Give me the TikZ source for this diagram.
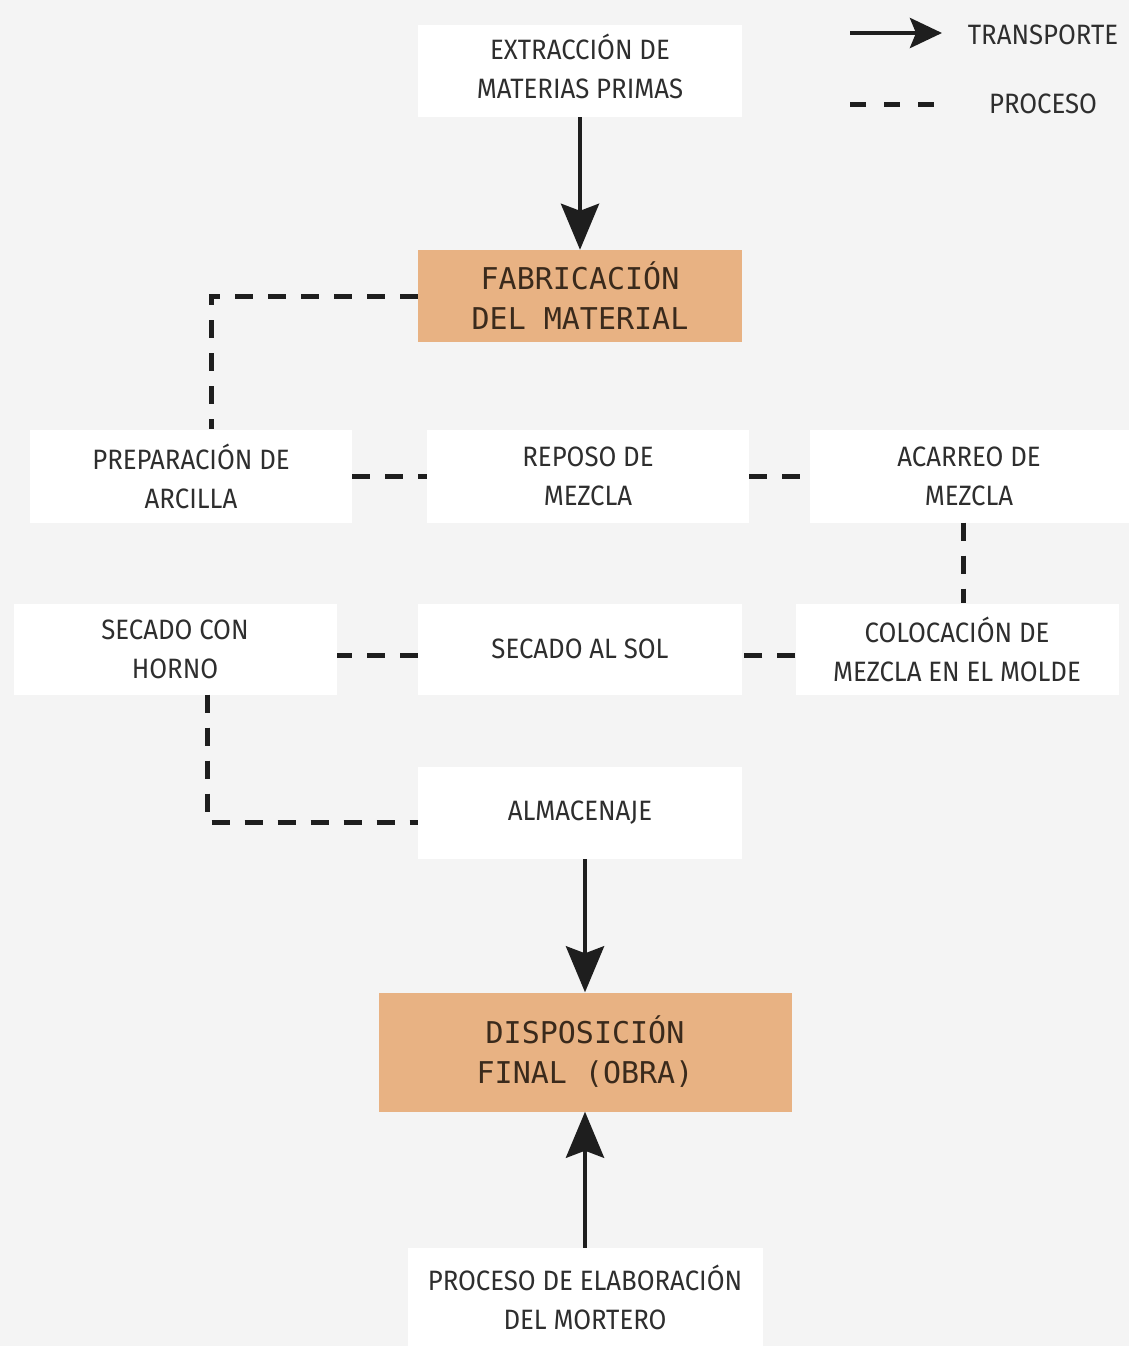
\documentclass[tikz,border=0pt]{standalone}
\usepackage{fontspec}
\setmainfont{Fira Sans}[FakeStretch=0.92]
\newfontfamily\monof{DejaVu Sans Mono}
\usetikzlibrary{arrows.meta}
\definecolor{bg}{HTML}{F4F4F4}
\definecolor{orangebox}{HTML}{E8B283}
\definecolor{txt}{HTML}{2E2E2E}
\definecolor{montxt}{HTML}{3A2A1C}
\definecolor{lnc}{HTML}{1E1E1E}
\tikzset{
  lbl/.style={font=\fontsize{28}{39}\selectfont, text=txt, align=center},
  wbox/.style={lbl, fill=white, inner sep=0pt, minimum width=324pt, minimum height=92pt},
  obox/.style={font=\monof\fontsize{30}{40}\selectfont, text=montxt, align=center, fill=orangebox, inner sep=0pt},
  proc/.style={draw=lnc, line width=5pt, dash pattern=on 18pt off 15pt},
  transp/.style={draw=lnc, line width=4.5pt, -{Stealth[length=46pt,width=38pt,inset=7pt]}},
}
\begin{document}
\begin{tikzpicture}[x=1pt,y=-1pt]
\path[use as bounding box, fill=bg] (0,0) rectangle (1129,1346);

% boxes
\node[wbox] (ext) at (580,71) {};
\node[lbl] (extt) at (580,66) {EXTRACCIÓN DE\\MATERIAS PRIMAS};
\node[obox, minimum width=324pt, minimum height=92pt] (fab) at (580,296) {FABRICACIÓN\\DEL MATERIAL};
\node[wbox, minimum width=322pt, minimum height=93pt] (prep) at (191,476) {PREPARACIÓN DE\\ARCILLA};
\node[wbox, minimum width=322pt, minimum height=93pt] (rep) at (588,476) {REPOSO DE\\MEZCLA};
\node[wbox, minimum width=319pt, minimum height=93pt] (acar) at (969,476) {ACARREO DE\\MEZCLA};
\node[wbox, minimum width=323pt, minimum height=91pt] (horno) at (175,649) {SECADO CON\\HORNO};
\node[wbox, minimum width=324pt, minimum height=91pt] (sol) at (580,649) {SECADO AL SOL};
\node[wbox, minimum width=323pt, minimum height=91pt] (coloc) at (957,649) {COLOCACIÓN DE\\MEZCLA EN EL MOLDE};
\node[wbox, minimum width=324pt, minimum height=92pt] (alm) at (580,813) {ALMACENAJE};
\node[obox, minimum width=413pt, minimum height=119pt] (disp) at (585,1052) {DISPOSICIÓN\\FINAL (OBRA)};
\node[wbox, minimum width=355pt, minimum height=98pt] (mort) at (585,1297) {PROCESO DE ELABORACIÓN\\DEL MORTERO};

% transport arrows
\draw[transp] (ext.south) -- (fab.north);
\draw[transp] (alm.south -| disp.north) -- (disp.north);
\draw[transp] (mort.north) -- (disp.south);

% process connectors
\draw[proc] (fab.west) -| ([xshift=20pt]prep.north);
\draw[proc] (prep.east) -- (rep.west);
\draw[proc] (rep.east) -- (acar.west);
\draw[proc] ([xshift=-6pt]acar.south) -- ([xshift=-6pt]acar.south |- coloc.north);
\draw[proc] ([yshift=-6pt]coloc.west) -- ([yshift=-6pt]sol.east);
\draw[proc] ([yshift=-6pt]sol.west) -- ([yshift=-6pt]horno.east);
\draw[proc] ([xshift=32pt]horno.south) |- ([yshift=-9pt]alm.west);

% legend
\coordinate (la1) at (850,33);
\coordinate (la2) at (942,33);
\draw[draw=lnc, line width=4.5pt, -{Stealth[length=32pt,width=30pt,inset=6pt]}] (la1) -- (la2);
\node[lbl, anchor=center] (ltr) at (1043,35) {TRANSPORTE};
\coordinate (lp1) at (850,104);
\coordinate (lp2) at (945,104);
\draw[proc, dash pattern=on 16pt off 18pt] (lp1) -- (lp2);
\node[lbl, anchor=center] (lpr) at (1043,104) {PROCESO};
\end{tikzpicture}
\end{document}
